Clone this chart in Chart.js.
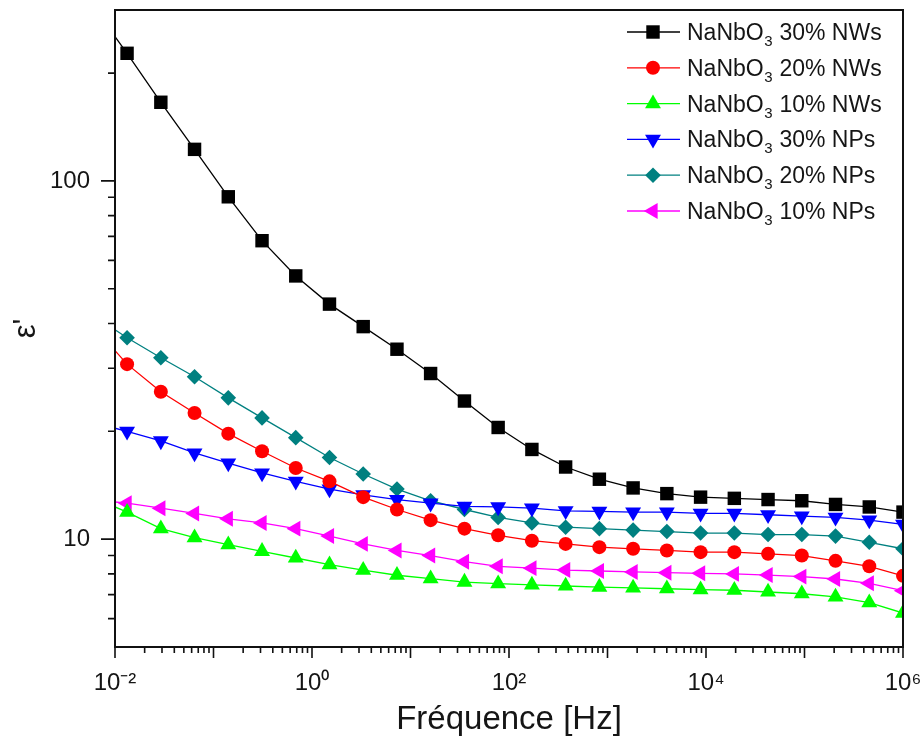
<!DOCTYPE html>
<html><head><meta charset="utf-8">
<script src="https://cdn.jsdelivr.net/npm/chart.js@4/dist/chart.umd.min.js"></script>
<style>html,body{margin:0;padding:0;background:#fff}#wrap{width:922px;height:749px}</style>
</head><body><div id="wrap"><canvas id="c" width="922" height="749"></canvas></div>
<script>
// Frequencies (Hz); first entry is where the curves meet the left axis (no marker)
const freqHz = [0.01, 0.01326, 0.0292, 0.0642, 0.1413, 0.311, 0.684, 1.505, 3.31, 7.29, 16.0, 35.3, 77.6, 170.8, 375.8, 827, 1820, 4005, 8810, 19390, 42660, 93870, 206500, 454600, 1000000];
const nw30 = [252.7, 227.1, 165.8, 122.5, 90.3, 68.1, 54.3, 45.3, 39.2, 33.9, 29.0, 24.3, 20.5, 17.8, 15.9, 14.7, 13.9, 13.4, 13.1, 13.0, 12.9, 12.8, 12.5, 12.3, 11.9];
const nw20 = [33.6, 30.8, 25.8, 22.5, 19.7, 17.6, 15.8, 14.5, 13.1, 12.1, 11.3, 10.7, 10.25, 9.9, 9.7, 9.5, 9.4, 9.3, 9.2, 9.2, 9.1, 9.0, 8.7, 8.4, 7.9];
const nw10 = [12.3, 11.9, 10.7, 10.1, 9.65, 9.25, 8.86, 8.49, 8.19, 7.93, 7.76, 7.59, 7.51, 7.45, 7.40, 7.35, 7.31, 7.27, 7.23, 7.20, 7.12, 7.04, 6.90, 6.65, 6.22];
const np30 = [20.4, 20.0, 18.8, 17.4, 16.3, 15.3, 14.5, 13.8, 13.3, 12.9, 12.6, 12.35, 12.3, 12.2, 12.0, 11.96, 11.9, 11.9, 11.8, 11.8, 11.7, 11.6, 11.5, 11.3, 11.0];
const np20 = [38.4, 36.5, 32.1, 28.4, 24.8, 21.8, 19.2, 16.9, 15.2, 13.8, 12.8, 12.1, 11.5, 11.1, 10.8, 10.7, 10.6, 10.5, 10.4, 10.4, 10.3, 10.3, 10.2, 9.8, 9.4];
const np10 = [12.7, 12.6, 12.2, 11.8, 11.4, 11.1, 10.7, 10.2, 9.7, 9.3, 9.0, 8.65, 8.4, 8.3, 8.2, 8.15, 8.1, 8.06, 8.03, 8.0, 7.94, 7.86, 7.74, 7.53, 7.18];
const seriesNames = ['NaNbO₃ 30% NWs', 'NaNbO₃ 20% NWs', 'NaNbO₃ 10% NWs', 'NaNbO₃ 30% NPs', 'NaNbO₃ 20% NPs', 'NaNbO₃ 10% NPs'];
const xTickValues = [0.01, 1, 100, 10000, 1000000];
const xTickLabels = ['10⁻²', '10⁰', '10²', '10⁴', '10⁶'];
const yTickValues = [10, 100];
const yTickLabels = ['10', '100'];

const FONT = "'Liberation Sans', Arial, Helvetica, sans-serif";
const TXT = '#151515';
Chart.defaults.font.family = FONT;

const styles = [
  {color: '#000000', pointStyle: 'rect', rot: 0, r: 9.5},
  {color: '#ff0000', pointStyle: 'circle', rot: 0, r: 7},
  {color: '#00ff00', pointStyle: 'triangle', rot: 0, r: 9.2},
  {color: '#0000ff', pointStyle: 'triangle', rot: 180, r: 9.2},
  {color: '#008080', pointStyle: 'rectRot', rot: 0, r: 7.8},
  {color: '#ff00ff', pointStyle: 'triangle', rot: 270, r: 9.2}
];
const seriesValues = [nw30, nw20, nw10, np30, np20, np10];

const datasets = seriesValues.map((vals, i) => {
  const s = styles[i];
  return {
    label: seriesNames[i],
    data: freqHz.map((f, k) => ({x: f, y: vals[k]})),
    borderColor: s.color,
    backgroundColor: s.color,
    borderWidth: 1.3,
    pointStyle: s.pointStyle,
    pointRotation: s.rot,
    pointRadius: c => c.dataIndex === 0 ? 0 : s.r,
    pointBackgroundColor: s.color,
    pointBorderWidth: 0,
    tension: 0,
    clip: 0,
    legendRadius: s.r
  };
});

const framePlugin = {
  id: 'frameTicks',
  afterDatasetsDraw(chart) {
    const {ctx, chartArea: a, scales: {x, y}} = chart;
    ctx.save();
    ctx.strokeStyle = '#111';
    ctx.lineWidth = 2;
    ctx.strokeRect(a.left, a.top, a.right - a.left, a.bottom - a.top);
    ctx.lineWidth = 1.6;
    ctx.beginPath();
    for (let e = -2; e <= 6; e++) {
      for (let m = 1; m <= 9; m++) {
        const v = m * Math.pow(10, e);
        if (v > 1000000 * 1.0001) break;
        const px = x.getPixelForValue(v);
        const len = m === 1 ? 11 : 6;
        ctx.moveTo(px, a.bottom);
        ctx.lineTo(px, a.bottom + len);
      }
    }
    for (let e = 0; e <= 2; e++) {
      for (let m = 1; m <= 9; m++) {
        const v = m * Math.pow(10, e);
        if (v <= 5 || v >= 300) continue;
        const py = y.getPixelForValue(v);
        const len = m === 1 ? 14 : 7;
        ctx.moveTo(a.left, py);
        ctx.lineTo(a.left - len, py);
      }
    }
    ctx.stroke();
    ctx.restore();
  }
};

const legendPlugin = {
  id: 'subLegend',
  afterDraw(chart) {
    const {ctx, chartArea: a} = chart;
    const x0 = a.right - 276, x1 = a.right - 223, xm = a.right - 250, xt = a.right - 216;
    chart.data.datasets.forEach((ds, i) => {
      const yr = a.top + 22 + i * 35.8;
      ctx.save();
      ctx.strokeStyle = ds.borderColor;
      ctx.lineWidth = 1.3;
      ctx.beginPath();
      ctx.moveTo(x0, yr); ctx.lineTo(x1, yr);
      ctx.stroke();
      ctx.fillStyle = ds.pointBackgroundColor;
      Chart.helpers.drawPoint(ctx, {pointStyle: ds.pointStyle, rotation: ds.pointRotation, radius: ds.legendRadius, borderWidth: 0}, xm, yr);
      const parts = ds.label.split('₃');
      ctx.fillStyle = TXT;
      ctx.textBaseline = 'alphabetic';
      ctx.textAlign = 'left';
      ctx.font = '23px ' + FONT;
      let xx = xt;
      const base = yr + 8;
      ctx.fillText(parts[0], xx, base);
      xx += ctx.measureText(parts[0]).width;
      ctx.font = '15px ' + FONT;
      ctx.fillText('3', xx + 0.5, base + 6);
      xx += ctx.measureText('3').width + 1;
      ctx.font = '23px ' + FONT;
      ctx.fillText(parts[1], xx, base);
      ctx.restore();
    });
  }
};

new Chart(document.getElementById('c').getContext('2d'), {
  type: 'line',
  data: {datasets},
  options: {
    responsive: false,
    animation: false,
    layout: {padding: {left: 0, right: 19, top: 10, bottom: 0}},
    plugins: {legend: {display: false}, tooltip: {enabled: false}},
    scales: {
      x: {
        type: 'logarithmic', position: 'bottom', min: 0.01, max: 1000000,
        afterBuildTicks: s => { s.ticks = xTickValues.map(v => ({value: v})); },
        afterFit: s => { s.height = 102; s.paddingLeft = 0; s.paddingRight = 0; },
        grid: {display: false, drawTicks: false},
        border: {display: false},
        ticks: {autoSkip: false, maxRotation: 0, minRotation: 0, padding: 22, color: TXT,
                font: {size: 24}, callback: (v, i) => xTickLabels[i]},
        title: {display: true, text: 'Fréquence [Hz]', color: TXT, font: {size: 33},
                padding: {top: 0, bottom: 9}}
      },
      y: {
        type: 'logarithmic', position: 'left', min: 5, max: 300,
        afterBuildTicks: s => { s.ticks = yTickValues.map(v => ({value: v})); },
        afterFit: s => { s.width = 115; s.paddingTop = 0; s.paddingBottom = 0; },
        grid: {display: false, drawTicks: false},
        border: {display: false},
        ticks: {autoSkip: false, padding: 25, color: TXT, font: {size: 24},
                callback: (v, i) => yTickLabels[i]},
        title: {display: true, text: "ε'", color: TXT, font: {size: 31},
                padding: {top: 8, bottom: 0}}
      }
    }
  },
  plugins: [framePlugin, legendPlugin]
});
</script></body></html>
